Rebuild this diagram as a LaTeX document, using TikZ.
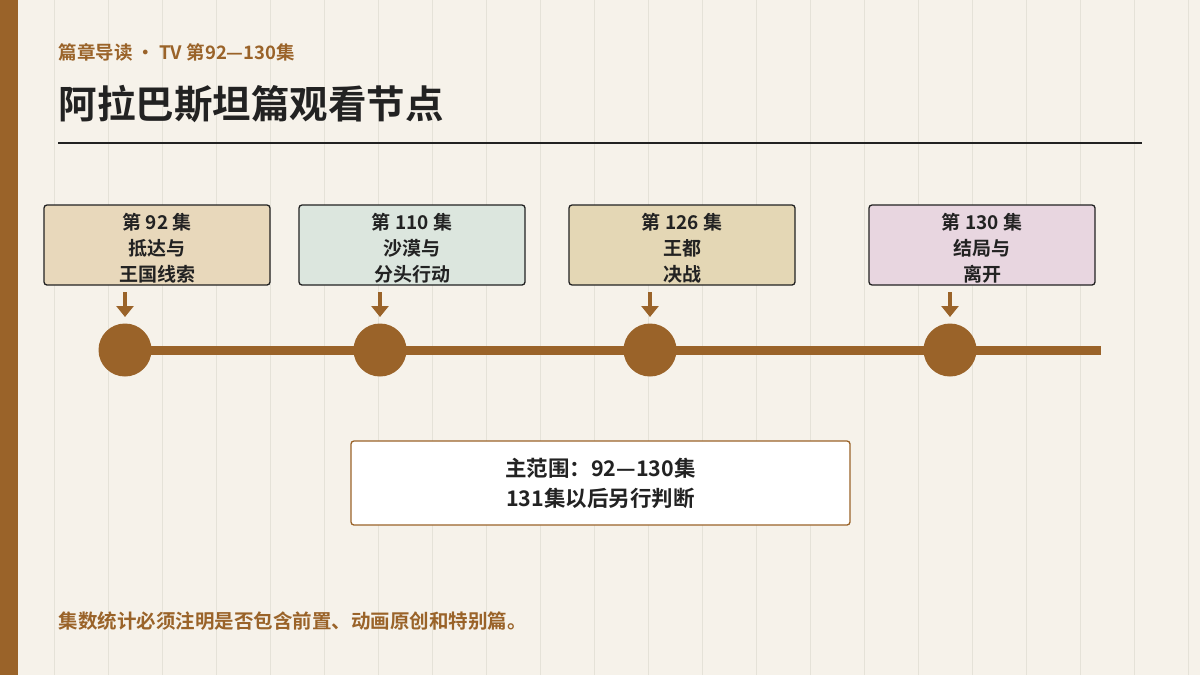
\documentclass[tikz,border=0pt]{standalone}
\usepackage{fontspec}
\usetikzlibrary{arrows.meta}
\setmainfont{Noto Sans CJK SC}[BoldFont={* Bold}]
\begin{document}
\definecolor{bg}{HTML}{F6F2EA}
\definecolor{brn}{HTML}{9A6329}
\definecolor{grid}{HTML}{E5E2D8}
\definecolor{dk}{HTML}{222222}
\definecolor{f1}{HTML}{E8D8BB}
\definecolor{f2}{HTML}{DCE6DE}
\definecolor{f3}{HTML}{E4D7B5}
\definecolor{f4}{HTML}{E8D6E0}
\begin{tikzpicture}[x=1pt,y=-1pt,
  ev/.style={draw=dk,line width=1.3pt,rounded corners=3pt,minimum width=226pt,minimum height=80pt,inner sep=0pt},
  evt/.style={font=\bfseries\fontsize{19}{26}\selectfont,text=dk,align=center},
  dot/.style={circle,fill=brn,minimum size=53pt,inner sep=0pt},
  arr/.style={draw=brn,line width=4pt,-{Triangle[length=11pt,width=17pt]}}]
\useasboundingbox (0,0) rectangle (1200,675);
\fill[bg] (0,0) rectangle (1200,675);
\foreach \x in {54,108,...,1200} \draw[grid,line width=1pt] (\x,0) -- (\x,675);
\fill[brn] (0,0) rectangle (18,675);
\node[anchor=west,text=brn,font=\bfseries\fontsize{18.5}{20}\selectfont] (sub) at (55,52) {篇章导读 · TV 第92—130集};
\node[anchor=west,text=dk,font=\bfseries\fontsize{38.5}{40}\selectfont] (title) at (55,104) {阿拉巴斯坦篇观看节点};
\coordinate (r1) at (58,143); \coordinate (r2) at (1142,143);
\draw[dk,line width=1.3pt] (r1) -- (r2);
\coordinate (le) at (1101,350);
\node[ev,fill=f1] (b1) at (157,245) {}; \node[ev,fill=f2] (b2) at (412,245) {};
\node[ev,fill=f3] (b3) at (682,245) {}; \node[ev,fill=f4] (b4) at (982,245) {};
\node[evt] (t1) at (157,248) {第 92 集\\抵达与\\王国线索};
\node[evt] (t2) at (412,248) {第 110 集\\沙漠与\\分头行动};
\node[evt] (t3) at (682,248) {第 126 集\\王都\\决战};
\node[evt] (t4) at (982,248) {第 130 集\\结局与\\离开};
\coordinate (c1) at (125,350);
\draw[brn,line width=9pt] (c1) -- (le);
\node[dot] (d1) at (125,350) {}; \node[dot] (d2) at (380,350) {};
\node[dot] (d3) at (650,350) {}; \node[dot] (d4) at (950,350) {};
\foreach \x/\i in {125/1,380/2,650/3,950/4}{
  \coordinate (a\i) at (\x,292); \coordinate (e\i) at (\x,317);
  \draw[arr] (a\i) -- (e\i);
}
\node[draw=brn,fill=white,line width=1.3pt,rounded corners=3pt,minimum width=499pt,minimum height=84pt,
  font=\bfseries\fontsize{21.5}{30}\selectfont,text=dk,align=center] (sum) at (600.5,483) {主范围：92—130集\\131集以后另行判断};
\node[anchor=west,text=brn,font=\bfseries\fontsize{19.5}{22}\selectfont] (note) at (55,621) {集数统计必须注明是否包含前置、动画原创和特别篇。};
\end{tikzpicture}
\end{document}
